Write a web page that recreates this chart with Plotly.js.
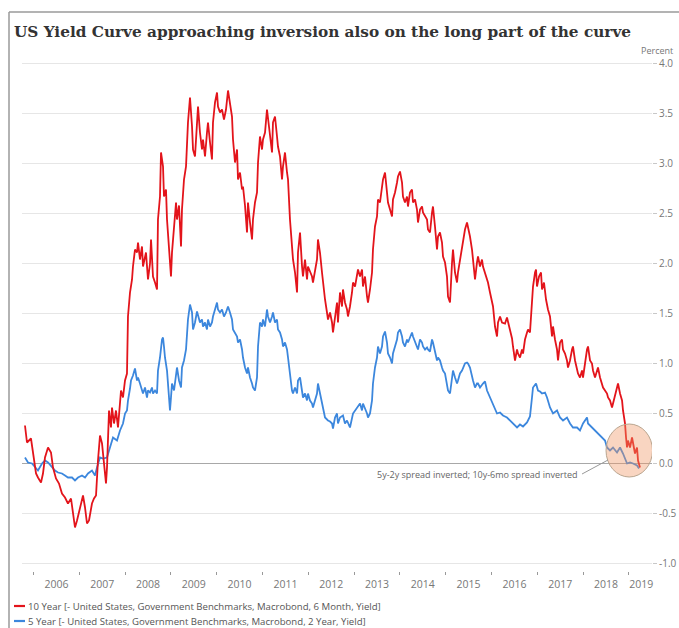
<!DOCTYPE html>
<html><head><meta charset="utf-8">
<script src="https://cdn.plot.ly/plotly-3.0.1.min.js"></script>
<style>html,body{margin:0;padding:0;background:#fff}#chart{width:679px;height:628px}</style>
</head><body><div id="chart"></div>
<script>
const titleText = 'US Yield Curve approaching inversion also on the long part of the curve';
const seriesNames = [
  '10 Year [- United States, Government Benchmarks, Macrobond, 6 Month, Yield]',
  '5 Year [- United States, Government Benchmarks, Macrobond, 2 Year, Yield]'
];
const seriesColors = ['#e3141b', '#3c87dd'];
const unitLabel = 'Percent';
const noteText = '5y-2y spread inverted; 10y-6mo spread inverted';
const yearTicks = [2006,2007,2008,2009,2010,2011,2012,2013,2014,2015,2016,2017,2018,2019];
const yearLabels = ['2006','2007','2008','2009','2010','2011','2012','2013','2014','2015','2016','2017','2018','2019'];
const yearLabelPos = [2006.5,2007.5,2008.5,2009.5,2010.5,2011.5,2012.5,2013.5,2014.5,2015.5,2016.5,2017.5,2018.5,2019.27];
const yTickVals = [-1,-0.5,0,0.5,1,1.5,2,2.5,3,3.5,4];
const yTickText = ['-1.0','-0.5','0.0','0.5','1.0','1.5','2.0','2.5','3.0','3.5','4.0'];

// 10 Year minus 6 Month spread (decimal years, percent)
const redYears = [
2005.814,2005.858,2005.945,2005.989,2006.055,2006.098,2006.164,2006.207,2006.251,2006.317,
2006.382,2006.426,2006.491,2006.557,2006.622,2006.688,2006.753,2006.819,2006.863,2006.906,
2006.950,2007.015,2007.081,2007.125,2007.168,2007.212,2007.277,2007.321,2007.365,2007.408,
2007.452,2007.496,2007.539,2007.583,2007.605,2007.649,2007.692,2007.714,2007.758,2007.801,
2007.845,2007.911,2007.954,2007.998,2008.041,2008.063,2008.107,2008.151,2008.172,2008.216,
2008.260,2008.282,2008.325,2008.369,2008.391,2008.435,2008.456,2008.500,2008.544,2008.566,
2008.609,2008.653,2008.697,2008.718,2008.762,2008.784,2008.828,2008.849,2008.893,2008.915,
2008.959,2009.002,2009.024,2009.068,2009.112,2009.133,2009.177,2009.221,2009.242,2009.286,
2009.330,2009.373,2009.417,2009.461,2009.483,2009.526,2009.570,2009.592,2009.635,2009.679,
2009.701,2009.745,2009.788,2009.810,2009.854,2009.897,2009.919,2009.963,2010.007,2010.028,
2010.072,2010.116,2010.159,2010.203,2010.247,2010.290,2010.334,2010.356,2010.400,2010.444,
2010.465,2010.509,2010.553,2010.574,2010.618,2010.662,2010.683,2010.727,2010.771,2010.792,
2010.836,2010.880,2010.902,2010.945,2010.989,2011.011,2011.055,2011.098,2011.120,2011.164,
2011.208,2011.229,2011.273,2011.317,2011.338,2011.382,2011.426,2011.447,2011.491,2011.535,
2011.557,2011.600,2011.644,2011.666,2011.710,2011.754,2011.775,2011.819,2011.863,2011.884,
2011.928,2011.972,2011.993,2012.037,2012.081,2012.102,2012.146,2012.190,2012.211,2012.255,
2012.299,2012.320,2012.365,2012.408,2012.430,2012.474,2012.518,2012.539,2012.583,2012.627,
2012.648,2012.692,2012.736,2012.757,2012.801,2012.845,2012.866,2012.910,2012.954,2012.976,
2013.020,2013.064,2013.085,2013.129,2013.173,2013.194,2013.238,2013.282,2013.303,2013.347,
2013.391,2013.412,2013.456,2013.500,2013.521,2013.565,2013.609,2013.631,2013.675,2013.718,
2013.740,2013.784,2013.828,2013.849,2013.893,2013.937,2013.958,2014.002,2014.046,2014.067,
2014.111,2014.155,2014.176,2014.220,2014.264,2014.286,2014.330,2014.373,2014.395,2014.439,
2014.483,2014.504,2014.548,2014.592,2014.613,2014.657,2014.701,2014.722,2014.766,2014.810,
2014.832,2014.875,2014.919,2014.941,2014.985,2015.028,2015.050,2015.094,2015.138,2015.159,
2015.203,2015.247,2015.268,2015.312,2015.356,2015.378,2015.421,2015.465,2015.487,2015.530,
2015.574,2015.596,2015.640,2015.683,2015.705,2015.749,2015.793,2015.814,2015.858,2015.902,
2015.923,2015.967,2016.011,2016.033,2016.076,2016.120,2016.142,2016.186,2016.229,2016.295,
2016.338,2016.404,2016.448,2016.469,2016.513,2016.557,2016.578,2016.622,2016.666,2016.688,
2016.731,2016.775,2016.797,2016.840,2016.884,2016.906,2016.950,2016.972,2016.993,2017.037,
2017.081,2017.103,2017.146,2017.190,2017.233,2017.277,2017.321,2017.343,2017.386,2017.430,
2017.452,2017.496,2017.539,2017.561,2017.605,2017.648,2017.670,2017.714,2017.758,2017.779,
2017.823,2017.867,2017.888,2017.932,2017.976,2017.998,2018.041,2018.085,2018.107,2018.151,
2018.194,2018.216,2018.260,2018.304,2018.325,2018.369,2018.413,2018.435,2018.478,2018.522,
2018.544,2018.587,2018.631,2018.653,2018.697,2018.740,2018.762,2018.806,2018.850,2018.871,
2018.915,2018.937,2018.959,2018.980,2019.024,2019.068,2019.090,2019.133,2019.177,2019.199,
2019.242
];
const redValues = [
0.38,0.21,0.25,0.11,-0.10,-0.14,-0.19,-0.10,0.06,0.16,
0.11,-0.04,-0.15,-0.20,-0.30,-0.34,-0.40,-0.35,-0.49,-0.64,
-0.57,-0.44,-0.32,-0.44,-0.60,-0.57,-0.40,-0.35,-0.32,0.03,
0.28,0.20,0.00,-0.20,-0.04,0.53,0.36,0.56,0.40,0.53,
0.36,0.73,0.66,0.83,0.90,1.47,1.71,1.84,1.97,2.14,
2.11,2.21,2.04,2.17,1.97,2.05,2.11,1.84,2.00,2.24,
1.87,1.81,1.74,2.44,2.67,3.11,2.97,2.67,2.74,2.44,
2.11,1.87,2.11,2.41,2.61,2.44,2.58,2.17,2.54,2.84,
2.97,3.41,3.66,3.37,3.14,3.07,3.44,3.57,3.31,3.14,
3.24,3.07,3.31,3.41,3.21,3.04,3.41,3.61,3.71,3.57,
3.51,3.54,3.44,3.54,3.73,3.61,3.47,3.24,3.01,3.14,
2.84,2.91,2.74,2.77,2.58,2.31,2.61,2.41,2.24,2.44,
2.61,2.71,3.01,3.27,3.14,3.24,3.31,3.54,3.44,3.31,
3.11,3.41,3.47,3.27,3.17,3.07,2.84,2.97,3.11,2.91,
2.84,2.44,2.21,2.04,1.91,1.71,2.11,2.31,1.97,1.87,
2.04,1.84,1.97,1.92,1.87,1.81,1.91,2.04,2.24,2.11,
1.91,1.81,1.64,1.51,1.44,1.51,1.41,1.31,1.47,1.61,
1.41,1.71,1.57,1.74,1.61,1.54,1.47,1.57,1.71,1.81,
1.77,1.91,1.94,1.87,1.94,1.77,1.87,1.67,1.61,1.74,
1.91,2.14,2.37,2.47,2.64,2.61,2.74,2.84,2.91,2.74,
2.61,2.54,2.47,2.64,2.71,2.81,2.87,2.92,2.81,2.67,
2.61,2.67,2.57,2.71,2.74,2.61,2.64,2.54,2.41,2.54,
2.57,2.51,2.47,2.44,2.34,2.31,2.51,2.57,2.37,2.14,
2.27,2.31,2.21,2.07,2.01,1.87,1.67,1.61,2.01,2.14,
1.91,1.81,1.91,2.04,2.17,2.21,2.34,2.41,2.37,2.27,
2.14,2.04,1.84,2.01,2.07,1.97,2.04,1.97,1.91,1.84,
1.81,1.71,1.61,1.57,1.37,1.27,1.41,1.47,1.41,1.40,
1.46,1.34,1.25,1.17,1.03,1.14,1.10,1.06,1.14,1.10,
1.24,1.31,1.34,1.31,1.61,1.77,1.91,1.94,1.77,1.87,
1.91,1.74,1.81,1.64,1.54,1.47,1.27,1.37,1.24,1.14,
1.03,1.21,1.24,1.14,1.10,1.03,0.96,1.03,1.14,1.17,
1.03,0.96,0.90,0.86,0.93,0.86,1.03,1.14,1.17,1.03,
1.00,0.93,0.86,0.93,0.96,0.86,0.80,0.76,0.73,0.70,
0.66,0.63,0.56,0.60,0.66,0.73,0.80,0.70,0.63,0.53,
0.40,0.26,0.16,0.23,0.16,0.26,0.20,0.10,0.16,0.03,
-0.04
];

// 5 Year minus 2 Year spread (decimal years, percent)
const blueYears = [
2005.814,2005.880,2005.967,2006.033,2006.098,2006.186,2006.251,2006.317,2006.404,2006.469,
2006.535,2006.622,2006.688,2006.753,2006.841,2006.906,2006.972,2007.059,2007.125,2007.190,
2007.277,2007.343,2007.386,2007.452,2007.517,2007.605,2007.670,2007.736,2007.823,2007.889,
2007.954,2007.998,2008.041,2008.063,2008.107,2008.129,2008.172,2008.216,2008.260,2008.282,
2008.325,2008.369,2008.391,2008.435,2008.478,2008.500,2008.544,2008.587,2008.609,2008.653,
2008.697,2008.718,2008.762,2008.806,2008.828,2008.849,2008.871,2008.915,2008.937,2008.980,
2009.002,2009.024,2009.068,2009.112,2009.133,2009.177,2009.221,2009.242,2009.286,2009.330,
2009.373,2009.417,2009.461,2009.483,2009.526,2009.570,2009.592,2009.635,2009.679,2009.701,
2009.745,2009.788,2009.810,2009.854,2009.897,2009.919,2009.963,2010.007,2010.028,2010.072,
2010.116,2010.159,2010.203,2010.247,2010.290,2010.334,2010.356,2010.400,2010.444,2010.465,
2010.509,2010.553,2010.574,2010.618,2010.662,2010.683,2010.727,2010.771,2010.792,2010.836,
2010.880,2010.902,2010.945,2010.989,2011.011,2011.055,2011.098,2011.120,2011.164,2011.208,
2011.229,2011.273,2011.317,2011.338,2011.382,2011.426,2011.447,2011.491,2011.535,2011.557,
2011.600,2011.644,2011.666,2011.710,2011.754,2011.775,2011.819,2011.863,2011.884,2011.928,
2011.972,2011.993,2012.037,2012.081,2012.102,2012.146,2012.190,2012.211,2012.255,2012.299,
2012.320,2012.365,2012.430,2012.474,2012.518,2012.539,2012.583,2012.627,2012.648,2012.692,
2012.757,2012.801,2012.845,2012.910,2012.976,2013.064,2013.129,2013.173,2013.194,2013.282,
2013.303,2013.347,2013.391,2013.412,2013.456,2013.500,2013.521,2013.565,2013.609,2013.631,
2013.675,2013.718,2013.740,2013.784,2013.828,2013.849,2013.893,2013.937,2013.958,2014.002,
2014.046,2014.067,2014.111,2014.155,2014.176,2014.220,2014.264,2014.286,2014.330,2014.373,
2014.395,2014.439,2014.483,2014.504,2014.548,2014.592,2014.613,2014.657,2014.701,2014.722,
2014.766,2014.810,2014.832,2014.875,2014.919,2014.941,2014.985,2015.028,2015.050,2015.094,
2015.138,2015.159,2015.203,2015.247,2015.268,2015.312,2015.356,2015.378,2015.421,2015.465,
2015.487,2015.530,2015.574,2015.596,2015.640,2015.683,2015.705,2015.749,2015.814,2015.858,
2015.902,2015.967,2016.033,2016.120,2016.186,2016.251,2016.338,2016.404,2016.469,2016.557,
2016.622,2016.688,2016.775,2016.840,2016.884,2016.906,2016.972,2017.015,2017.059,2017.103,
2017.168,2017.212,2017.277,2017.343,2017.430,2017.496,2017.561,2017.648,2017.714,2017.779,
2017.867,2017.932,2017.998,2018.085,2018.107,2018.194,2018.260,2018.325,2018.413,2018.478,
2018.522,2018.587,2018.653,2018.740,2018.806,2018.871,2018.959,2019.024,2019.090,2019.177,
2019.221
];
const blueValues = [
0.06,0.01,0.00,-0.04,-0.07,0.00,0.03,0.01,-0.04,-0.07,
-0.09,-0.10,-0.12,-0.14,-0.14,-0.17,-0.14,-0.12,-0.14,-0.10,
-0.07,-0.12,-0.04,0.06,0.05,0.06,0.16,0.26,0.23,0.33,
0.40,0.50,0.53,0.63,0.75,0.83,0.88,0.95,0.83,0.86,
0.80,0.73,0.70,0.76,0.66,0.73,0.71,0.76,0.70,0.73,
0.70,0.93,1.06,1.24,1.26,1.17,1.06,0.93,0.80,0.53,
0.66,0.80,0.73,0.90,0.96,0.83,0.76,0.96,1.03,1.14,
1.44,1.59,1.51,1.34,1.41,1.52,1.47,1.41,1.44,1.37,
1.41,1.34,1.44,1.37,1.41,1.47,1.54,1.61,1.54,1.51,
1.54,1.47,1.51,1.57,1.51,1.44,1.34,1.31,1.27,1.21,
1.24,1.14,1.06,0.96,0.90,0.96,0.86,0.80,0.76,0.73,
0.86,1.17,1.41,1.37,1.44,1.37,1.54,1.47,1.41,1.47,
1.51,1.41,1.44,1.34,1.31,1.24,1.17,1.21,1.14,1.06,
0.86,0.73,0.70,0.76,0.70,0.83,0.86,0.73,0.66,0.70,
0.63,0.70,0.63,0.60,0.56,0.63,0.70,0.80,0.70,0.60,
0.53,0.46,0.43,0.42,0.40,0.35,0.46,0.50,0.40,0.46,
0.48,0.40,0.43,0.36,0.50,0.56,0.60,0.53,0.60,0.50,
0.46,0.50,0.63,0.80,0.96,1.06,1.17,1.10,1.17,1.27,
1.32,1.21,1.10,1.06,1.00,1.10,1.17,1.24,1.31,1.34,
1.27,1.21,1.17,1.24,1.21,1.27,1.31,1.27,1.21,1.17,
1.14,1.24,1.21,1.17,1.14,1.16,1.14,1.12,1.24,1.21,
1.10,1.03,1.06,1.03,0.96,0.93,0.90,0.80,0.73,0.70,
0.90,0.93,0.86,0.80,0.83,0.90,0.93,0.96,1.00,1.01,
1.00,0.96,0.86,0.83,0.76,0.80,0.80,0.76,0.80,0.82,
0.73,0.66,0.60,0.50,0.51,0.48,0.46,0.43,0.40,0.36,
0.39,0.37,0.41,0.47,0.66,0.76,0.80,0.73,0.72,0.70,
0.71,0.66,0.56,0.50,0.53,0.46,0.43,0.46,0.40,0.36,
0.36,0.33,0.40,0.46,0.40,0.36,0.33,0.30,0.26,0.23,
0.16,0.13,0.16,0.11,0.16,0.10,0.00,0.01,0.00,-0.02,
-0.05
];

const X_RANGE = [2005.749, 2019.504];
const Y_RANGE = [-1.075, 4.015];

const traces = [
  {type:'scatter', mode:'lines', x:blueYears, y:blueValues, name:seriesNames[1],
   line:{color:seriesColors[1], width:1.8}, xaxis:'x', yaxis:'y', hoverinfo:'skip'},
  {type:'scatter', mode:'lines', x:redYears, y:redValues, name:seriesNames[0],
   line:{color:seriesColors[0], width:1.8}, xaxis:'x2', yaxis:'y', hoverinfo:'skip'}
];

// pixel helpers for placing decorations outside the plot area (paper coordinates)
const PL = 22, PR = 652, PT = 62, PB = 571;
const px = v => (v - PL) / (PR - PL);
const py = v => (PB - v) / (PB - PT);

const layout = {
  width:679, height:628,
  margin:{l:PL, r:679-PR, t:PT, b:628-PB},
  paper_bgcolor:'#ffffff', plot_bgcolor:'#ffffff',
  font:{family:'Open Sans, sans-serif', size:10, color:'#777'},
  showlegend:false,
  title:{text:'<b>'+titleText+'</b>', font:{family:'DejaVu Serif, serif', size:15.3, color:'#333'},
         xref:'container', yref:'container', x:14/679, xanchor:'left', y:1-32/628, yanchor:'middle'},
  xaxis:{range:X_RANGE, tickvals:yearTicks, showticklabels:false, ticks:'outside', ticklen:3, tickwidth:1,
         tickcolor:'#999', showgrid:false, zeroline:false, showline:false, fixedrange:true},
  xaxis2:{overlaying:'x', anchor:'y', side:'bottom', range:X_RANGE, tickvals:yearLabelPos, ticktext:yearLabels,
          ticks:'outside', ticklen:3, tickcolor:'rgba(0,0,0,0)', showgrid:false, zeroline:false, showline:false,
          tickfont:{size:10.5, color:'#777'}},
  yaxis:{side:'right', range:Y_RANGE, tickvals:yTickVals, ticktext:yTickText, ticks:'outside', ticklen:4,
         tickcolor:'#c8c8c8', gridcolor:'#e6e6e6', gridwidth:1, zeroline:true, zerolinecolor:'#a8a8a8',
         zerolinewidth:1.5, showline:false, tickfont:{size:10, color:'#777'}},
  shapes:[
    {type:'circle', xref:'x', yref:'y', x0:2018.500, x1:2019.515, y0:-0.135, y1:0.395,
     fillcolor:'rgba(240,150,100,0.4)', line:{color:'#b9a58f', width:1}, layer:'above'},
    {type:'line', xref:'x', yref:'y', x0:2017.976, y0:-0.105, x1:2018.544, y1:0.035,
     line:{color:'#999', width:1}},
    {type:'line', xref:'paper', yref:'paper', x0:px(9), x1:px(679), y0:py(12), y1:py(12),
     line:{color:'#9a9a9a', width:1.5}},
    {type:'line', xref:'paper', yref:'paper', x0:px(9), x1:px(9), y0:py(12), y1:py(640),
     line:{color:'#9a9a9a', width:1.5}},
    {type:'line', xref:'paper', yref:'paper', x0:px(14), x1:px(25), y0:py(606), y1:py(606),
     line:{color:seriesColors[0], width:2.2}},
    {type:'line', xref:'paper', yref:'paper', x0:px(14), x1:px(25), y0:py(621), y1:py(621),
     line:{color:seriesColors[1], width:2.2}}
  ],
  annotations:[
    {xref:'paper', yref:'paper', x:px(657), y:py(50), text:unitLabel, showarrow:false,
     xanchor:'center', yanchor:'middle', font:{size:9, color:'#777'}},
    {xref:'paper', yref:'paper', x:px(26), y:py(606), text:seriesNames[0], showarrow:false,
     xanchor:'left', yanchor:'middle', font:{size:9.6, color:'#555'}},
    {xref:'paper', yref:'paper', x:px(26), y:py(621), text:seriesNames[1], showarrow:false,
     xanchor:'left', yanchor:'middle', font:{size:9.6, color:'#555'}},
    {xref:'x', yref:'y', x:2017.932, y:-0.105, text:noteText, showarrow:false,
     xanchor:'right', yanchor:'middle', font:{size:9, color:'#666'}}
  ]
};

Plotly.newPlot('chart', traces, layout, {staticPlot:true, displayModeBar:false});
</script>
</body></html>
